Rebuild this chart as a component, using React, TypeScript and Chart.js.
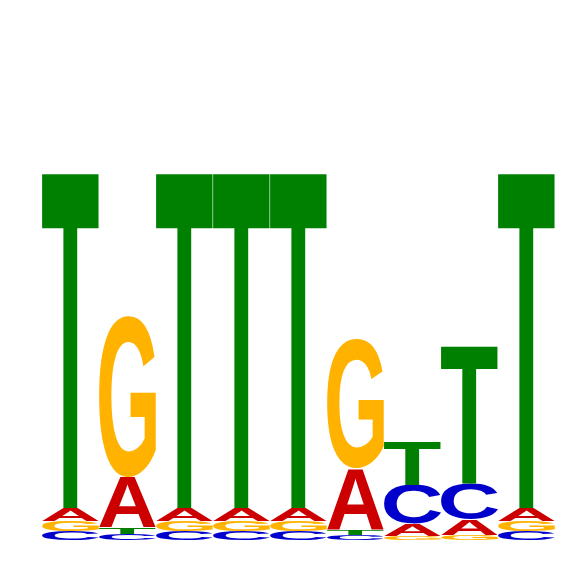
import { useEffect, useRef } from "react"
import Chart from "chart.js/auto"

// sequence logo: information content (bits) per letter at each position
const positions = ["1", "2", "3", "4", "5", "6", "7", "8", "9"]
const letters = ["A", "C", "G", "T"]
const bitsA = [0.051, 0.195, 0.051, 0.051, 0.051, 0.238, 0.047, 0.059, 0.051]
const bitsC = [0.035, 0.025, 0.035, 0.035, 0.035, 0.021, 0.152, 0.141, 0.035]
const bitsG = [0.039, 0.628, 0.039, 0.039, 0.039, 0.506, 0.016, 0.02, 0.039]
const bitsT = [1.317, 0.026, 1.317, 1.317, 1.317, 0.022, 0.17, 0.541, 1.317]
const letterColors: Record<string, string> = {
  A: "#cc0000",
  C: "#0000cc",
  G: "#ffb300",
  T: "#008000",
}

// stack each column with the smallest letter at the bottom
function buildRanges() {
  const series = [bitsA, bitsC, bitsG, bitsT]
  const ranges: [number, number][][] = letters.map(() => [])
  positions.forEach((_, i) => {
    const order = letters.map((_, k) => k).sort((a, b) => series[a][i] - series[b][i])
    let acc = 0
    order.forEach((k) => {
      ranges[k][i] = [acc, acc + series[k][i]]
      acc += series[k][i]
    })
  })
  return ranges
}

const logoLetters = {
  id: "logoLetters",
  afterDatasetsDraw(chart: any) {
    const ctx = chart.ctx as CanvasRenderingContext2D
    chart.data.datasets.forEach((ds: any, di: number) => {
      const meta = chart.getDatasetMeta(di)
      meta.data.forEach((el: any) => {
        const { x, y, base, width } = el.getProps(["x", "y", "base", "width"], true)
        const top = Math.min(y, base)
        const h = Math.abs(base - y)
        if (h < 0.5) return
        const left = x - width / 2
        ctx.save()
        ctx.font = "bold 200px 'Liberation Sans', Arial, sans-serif"
        ctx.textAlign = "left"
        ctx.textBaseline = "alphabetic"
        const m = ctx.measureText(ds.label)
        const gw = m.actualBoundingBoxLeft + m.actualBoundingBoxRight
        const gh = m.actualBoundingBoxAscent + m.actualBoundingBoxDescent
        ctx.translate(left, top)
        ctx.scale(width / gw, h / gh)
        ctx.fillStyle = letterColors[ds.label]
        ctx.fillText(ds.label, m.actualBoundingBoxLeft, m.actualBoundingBoxAscent)
        ctx.restore()
      })
    })
  },
}

export default function App() {
  const chartRef = useRef<HTMLCanvasElement>(null)
  const chartInstance = useRef<Chart | null>(null)

  useEffect(() => {
    if (!chartRef.current) return
    if (chartInstance.current) chartInstance.current.destroy()
    const ctx = chartRef.current.getContext("2d")
    if (!ctx) return

    const ranges = buildRanges()
    chartInstance.current = new Chart(ctx, {
      type: "bar",
      data: {
        labels: positions,
        datasets: letters.map((l, k) => ({
          label: l,
          data: ranges[k],
          backgroundColor: "rgba(0,0,0,0)",
          borderWidth: 0,
          grouped: false,
          barPercentage: 1,
          categoryPercentage: 1,
        })),
      },
      options: {
        responsive: true,
        maintainAspectRatio: false,
        animation: false,
        events: [],
        layout: { padding: { left: 42, right: 11, top: 28, bottom: 26 } },
        scales: {
          x: { display: false },
          y: { display: false, min: 0, max: 2 },
        },
        plugins: {
          legend: { display: false },
          tooltip: { enabled: false },
        },
      },
      plugins: [logoLetters],
    })

    return () => {
      if (chartInstance.current) {
        chartInstance.current.destroy()
        chartInstance.current = null
      }
    }
  }, [])

  return (
    <div style={{ position: "absolute", left: 0, top: 0, width: 566, height: 566 }}>
      <canvas ref={chartRef} />
    </div>
  )
}
